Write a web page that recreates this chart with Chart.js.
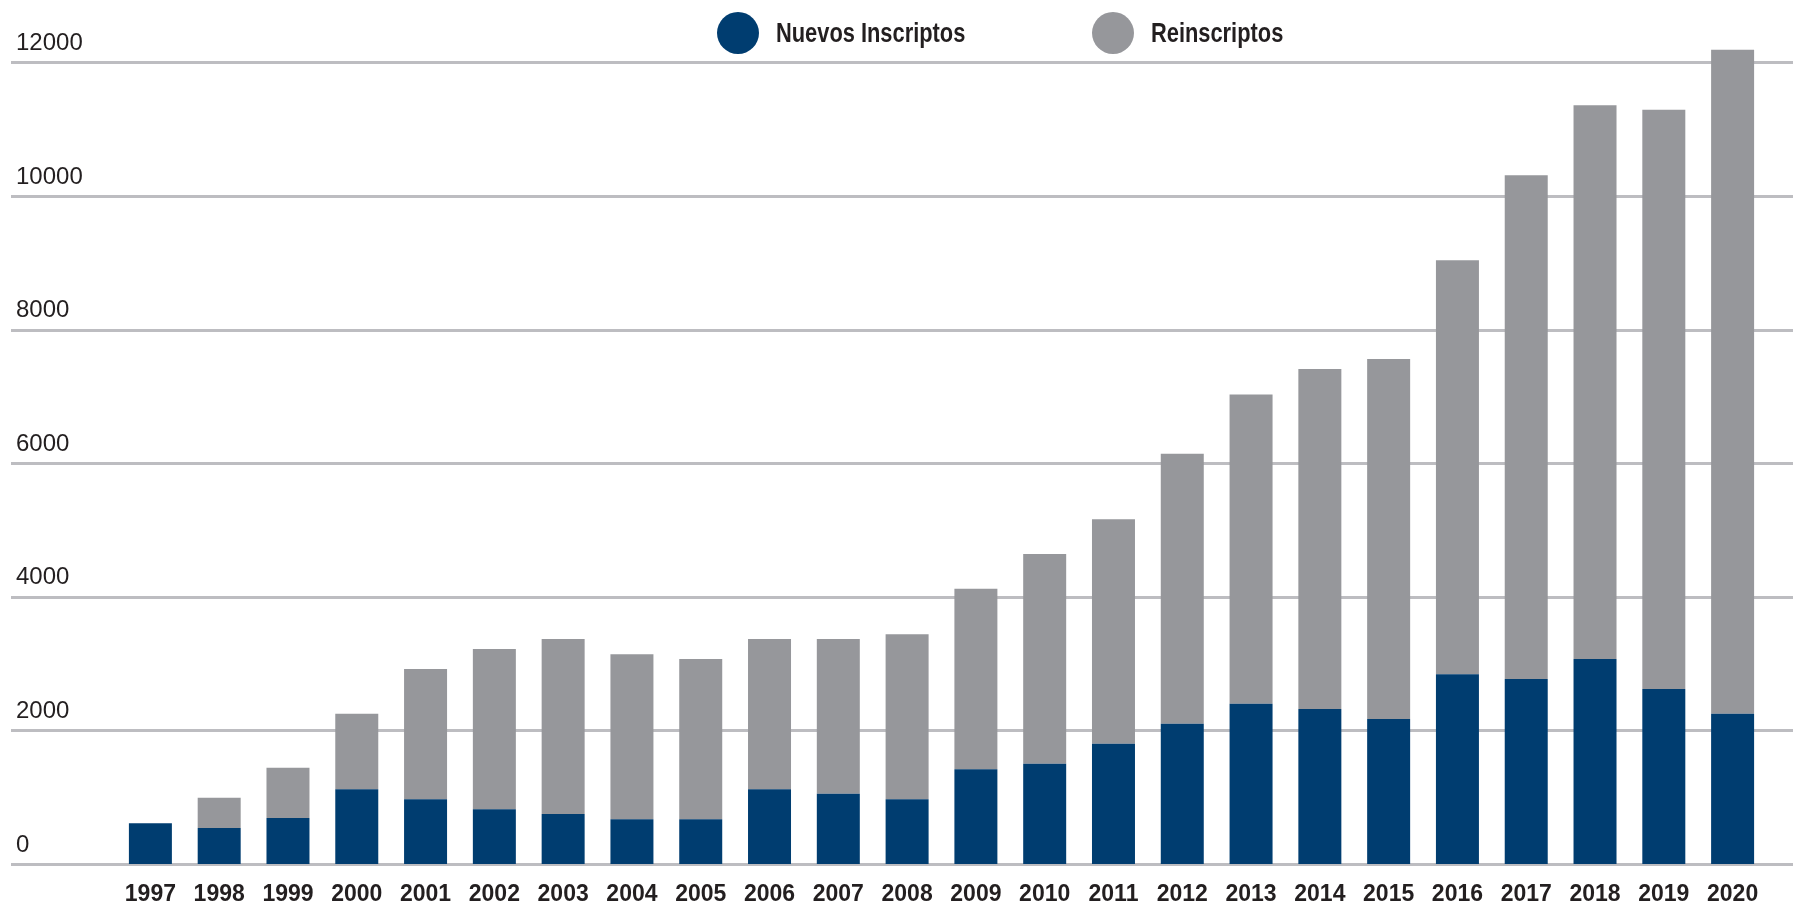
<!DOCTYPE html>
<html>
<head>
<meta charset="utf-8">
<script src="https://cdn.jsdelivr.net/npm/chart.js@4/dist/chart.umd.min.js"></script>
<style>
  html, body { margin: 0; padding: 0; background: #fff; }
  #wrap { position: relative; width: 1793px; height: 906px; }
  #legend { position: absolute; top: 0; left: 0; width: 1793px; height: 66px; pointer-events: none; }
  .item { position: absolute; top: 12px; height: 42px; display: flex; align-items: center;
          font-family: "Liberation Sans", Arial, sans-serif;
          font-weight: bold; font-size: 28px; color: #231f20; white-space: nowrap; }
  .dot { width: 42px; height: 42px; border-radius: 50%; margin-right: 17px; flex: none; }
  .txt { display: inline-block; transform: scaleX(0.78); transform-origin: left center; }
</style>
</head>
<body>
<div id="wrap">
  <canvas id="chart" width="1793" height="906"></canvas>
  <div id="legend"></div>
</div>
<script>
const years = ["1997","1998","1999","2000","2001","2002","2003","2004","2005","2006","2007","2008",
               "2009","2010","2011","2012","2013","2014","2015","2016","2017","2018","2019","2020"];
const nuevos = [610, 540, 690, 1120, 970, 820, 750, 670, 670, 1120, 1050, 970,
                1420, 1500, 1800, 2100, 2400, 2320, 2170, 2840, 2770, 3070, 2620, 2250];
const reinscriptos = [0, 450, 750, 1130, 1950, 2400, 2620, 2470, 2400, 2250, 2320, 2470,
                      2700, 3140, 3360, 4040, 4630, 5090, 5390, 6200, 7540, 8290, 8670, 9940];
const yTicks = [0, 2000, 4000, 6000, 8000, 10000, 12000];

const NAVY = "#003d70";
const GRAY = "#96979b";
const GRID = "#bdbdc1";
const TEXT = "#231f20";
const FONT = '"Liberation Sans", Arial, sans-serif';

// grid lines run the whole width of the picture, behind the bars
const fullGrid = {
  id: "fullGrid",
  beforeDatasetsDraw(chart) {
    const ctx = chart.ctx, y = chart.scales.y;
    ctx.save();
    ctx.strokeStyle = GRID;
    ctx.lineWidth = 3;
    yTicks.forEach(v => {
      const py = Math.round(y.getPixelForValue(v)) + 0.5;
      ctx.beginPath();
      ctx.moveTo(11, py);
      ctx.lineTo(chart.width, py);
      ctx.stroke();
    });
    ctx.restore();
  }
};

const chart = new Chart(document.getElementById("chart"), {
  type: "bar",
  data: {
    labels: years,
    datasets: [
      { label: "Nuevos Inscriptos", data: nuevos, backgroundColor: NAVY },
      { label: "Reinscriptos", data: reinscriptos, backgroundColor: GRAY }
    ]
  },
  options: {
    responsive: false,
    animation: false,
    layout: { padding: { left: 16, right: 26, top: 29, bottom: 0 } },
    datasets: { bar: { categoryPercentage: 1, barPercentage: 0.625 } },
    plugins: { legend: { display: false }, tooltip: { enabled: false } },
    scales: {
      x: {
        stacked: true,
        grid: { display: false, drawTicks: false },
        border: { display: false },
        ticks: { color: TEXT, padding: 17, maxRotation: 0, autoSkip: false,
                 font: { family: FONT, size: 23, weight: "bold" } },
        afterFit: s => { s.height = 42; }
      },
      y: {
        stacked: true,
        min: 0,
        max: 12500,
        grid: { display: false, drawTicks: false },
        border: { display: false },
        afterBuildTicks: s => { s.ticks = yTicks.map(v => ({ value: v })); },
        afterFit: s => { s.width = 100; },
        ticks: { color: TEXT, crossAlign: "far", labelOffset: -19, padding: 0,
                 callback: v => String(v),
                 font: { family: FONT, size: 24 } }
      }
    }
  },
  plugins: [fullGrid]
});

// legend built from the datasets
const legendPos = [717, 1092];
const legend = document.getElementById("legend");
chart.data.datasets.forEach((ds, i) => {
  const item = document.createElement("div");
  item.className = "item";
  item.style.left = legendPos[i] + "px";
  item.innerHTML = `<span class="dot" style="background:${ds.backgroundColor}"></span><span class="txt">${ds.label}</span>`;
  legend.appendChild(item);
});
</script>
</body>
</html>
